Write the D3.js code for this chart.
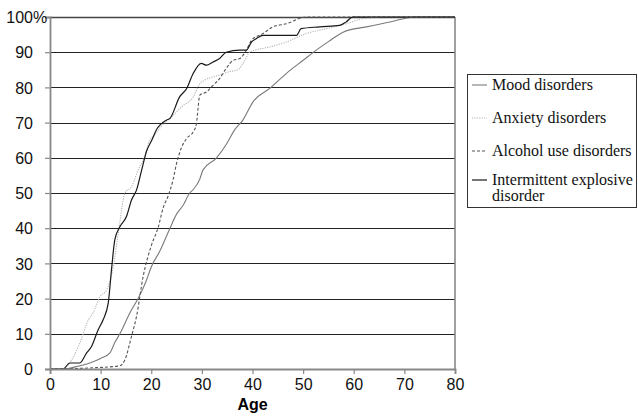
<!DOCTYPE html>
<html>
<head>
<meta charset="utf-8">
<script src="https://cdn.jsdelivr.net/npm/d3@7"></script>
<style>
  body { margin: 0; background: #fff; }
  svg { display: block; }
</style>
</head>
<body>
<div id="chart"></div>
<script>
// cumulative age-of-onset curves
const moodAge = [0, 3, 5, 8, 10, 11.8, 12.8, 13.8, 15.8, 17.4, 19, 20, 21.7, 23.7, 25, 26.3, 27.6, 28.3, 29.6, 30.2, 32.9, 34.9, 36.5, 38.1, 40.1, 43.4, 46.7, 50, 52.6, 55, 57.9, 62.5, 67.1, 72.3, 80];
const moodPct = [0, 0, 0.6, 1.8, 3, 4.5, 7.5, 10, 16, 20, 25, 29, 33.5, 40, 44, 46.5, 50, 51, 54, 56.5, 60, 64, 68, 70.7, 75.9, 79.7, 84, 87.7, 90.6, 93, 95.7, 97.2, 98.6, 100, 100];

const anxAge = [0, 2.5, 3.6, 5.9, 7.6, 8.5, 9.9, 11.2, 12.5, 13.5, 14.8, 16.1, 17.4, 18.7, 19.7, 20.7, 22, 24, 26, 28.3, 29.6, 30.5, 32.2, 33.5, 35.2, 37.1, 38.5, 39.4, 43.4, 46.7, 50.6, 54.6, 58.5, 61.8, 66.4, 80];
const anxPct = [0, 0, 1.2, 7.4, 14, 15.9, 20.6, 22.5, 29, 38.6, 50, 51.8, 56.5, 60.3, 65, 66.5, 69, 71.6, 74.5, 77.3, 81, 82, 83, 83.5, 84.4, 85, 87.7, 90, 91.5, 92.9, 95.3, 96.7, 98.1, 99.5, 100, 100];

const alcAge = [0, 7.9, 13.8, 14.8, 16.1, 17.1, 18.4, 20, 21.4, 22.4, 23.3, 24.3, 25, 26, 27, 28.3, 28.9, 29.6, 30.9, 32.2, 33.5, 34.8, 36.2, 37.5, 38.8, 39.8, 42.1, 44, 46.7, 50.6, 80];
const alcPct = [0, 0.3, 0.9, 2.6, 9.3, 15, 26.3, 35, 40.4, 46, 49, 53.7, 58.4, 63, 65.5, 67.4, 69.5, 77.8, 78.7, 80.6, 82.5, 85.4, 87.7, 88.2, 90.6, 93.4, 95.3, 97.2, 98.1, 100, 100];

const iedAge = [0, 2.6, 3.9, 5.9, 7.2, 8.2, 9.5, 10.5, 11.5, 12.2, 12.8, 13.8, 15.1, 16.1, 17.1, 18.1, 19.1, 20.1, 21, 23, 23.7, 25.6, 27, 28.3, 29.9, 30.9, 32.2, 33.5, 34.8, 37.5, 38.8, 39.8, 40.8, 42.1, 48.7, 49.6, 53.3, 57.2, 58.5, 59.8, 80];
const iedPct = [0, 0, 1.7, 1.7, 4.5, 6.4, 11.1, 14, 18.7, 29, 36.7, 40.4, 43.3, 48, 50.9, 56.5, 62, 65, 67.9, 70.7, 71.2, 77.3, 79.7, 84, 86.8, 86.3, 87.2, 88.2, 90, 90.6, 90.6, 92.9, 93.9, 94.8, 94.8, 96.7, 97.2, 97.6, 98.6, 100, 100];

const seriesNames = ["Mood disorders", "Anxiety disorders", "Alcohol use disorders", "Intermittent explosive disorder"];
const xTicks = [0, 10, 20, 30, 40, 50, 60, 70, 80];
const yTicks = [0, 10, 20, 30, 40, 50, 60, 70, 80, 90, 100];

const series = [
  {name: seriesNames[0], ages: moodAge, pcts: moodPct, color: "#7a7a7a", width: 1.1, dash: null},
  {name: seriesNames[1], ages: anxAge, pcts: anxPct, color: "#b4b4b4", width: 1.1, dash: "1.2,1.2"},
  {name: seriesNames[2], ages: alcAge, pcts: alcPct, color: "#555", width: 1.1, dash: "3,2"},
  {name: seriesNames[3], ages: iedAge, pcts: iedPct, color: "#1a1a1a", width: 1.2, dash: null}
];

const W = 638, H = 416;
const margin = {top: 17, right: 183, bottom: 47, left: 50};
const width = W - margin.left - margin.right;
const height = H - margin.top - margin.bottom;

const svg = d3.select("#chart").append("svg")
  .attr("width", W).attr("height", H);
const g = svg.append("g")
  .attr("transform", "translate(" + margin.left + "," + margin.top + ")");

const x = d3.scaleLinear().domain([0, 80]).range([0, width]);
const y = d3.scaleLinear().domain([0, 100]).range([height, 0]);

// horizontal gridlines
g.selectAll(".grid").data(yTicks.filter(t => t > 0 && t < 100)).enter()
  .append("line")
  .attr("x1", 0).attr("x2", width)
  .attr("y1", d => Math.round(y(d)) + 0.5).attr("y2", d => Math.round(y(d)) + 0.5)
  .attr("stroke", "#222").attr("stroke-width", 1);

// top and right border
g.append("line").attr("x1", 0).attr("x2", width).attr("y1", 0.5).attr("y2", 0.5)
  .attr("stroke", "#444").attr("stroke-width", 1.3);
g.append("line").attr("x1", width).attr("x2", width).attr("y1", 0).attr("y2", height)
  .attr("stroke", "#888").attr("stroke-width", 1.6);

// curves
const line = d3.line()
  .x(d => x(d[0]))
  .y(d => y(d[1]))
  .curve(d3.curveMonotoneX);

series.forEach(s => {
  const pts = s.ages.map((a, i) => [a, s.pcts[i]]);
  g.append("path")
    .datum(pts)
    .attr("fill", "none")
    .attr("stroke", s.color)
    .attr("stroke-width", s.width)
    .attr("stroke-dasharray", s.dash)
    .attr("d", line);
});

// axes
const xAxis = g.append("g")
  .attr("transform", "translate(0," + height + ")")
  .call(d3.axisBottom(x).tickValues(xTicks).tickSize(5).tickPadding(5));
const yAxis = g.append("g")
  .call(d3.axisLeft(y).tickValues(yTicks).tickSize(5).tickPadding(12));

[xAxis, yAxis].forEach(a => {
  a.select(".domain").attr("stroke", "#888").attr("stroke-width", 1.8);
  a.selectAll(".tick line").attr("stroke", "#888").attr("stroke-width", 1.2);
  a.selectAll("text")
    .attr("font-family", "'Liberation Sans', Arial, sans-serif")
    .attr("font-size", 16)
    .attr("fill", "#111");
});
yAxis.selectAll(".tick text").attr("dy", "0.36em");
// the % sign trails the top label
yAxis.selectAll(".tick").filter(d => d === 100).append("text")
  .attr("x", -17).attr("dy", "0.36em")
  .attr("text-anchor", "start")
  .attr("font-family", "'Liberation Sans', Arial, sans-serif")
  .attr("font-size", 16)
  .attr("fill", "#111")
  .text("%");

// axis title
g.append("text")
  .attr("x", x(40)).attr("y", height + 41)
  .attr("text-anchor", "middle")
  .attr("font-family", "'Liberation Sans', Arial, sans-serif")
  .attr("font-size", 16)
  .attr("font-weight", "bold")
  .text("Age");

// legend
const lg = svg.append("g");
lg.append("rect")
  .attr("x", 467.5).attr("y", 74.5).attr("width", 169).attr("height", 133)
  .attr("fill", "#fff").attr("stroke", "#333").attr("stroke-width", 1);

const legendY = [85, 118, 151, 180];
series.forEach((s, i) => {
  const ly = legendY[i];
  lg.append("line")
    .attr("x1", 472).attr("x2", 487)
    .attr("y1", ly).attr("y2", ly)
    .attr("stroke", s.color).attr("stroke-width", s.width)
    .attr("stroke-dasharray", s.dash);
  const t = lg.append("text")
    .attr("x", 492).attr("y", ly)
    .attr("dy", "0.33em")
    .attr("font-family", "'Liberation Serif', 'Times New Roman', serif")
    .attr("font-size", 16)
    .attr("fill", "#111");
  if (i === 3) {
    t.append("tspan").attr("x", 492).text("Intermittent explosive");
    t.append("tspan").attr("x", 492).attr("dy", "1em").text("disorder");
  } else {
    t.text(s.name);
  }
});
</script>
</body>
</html>
